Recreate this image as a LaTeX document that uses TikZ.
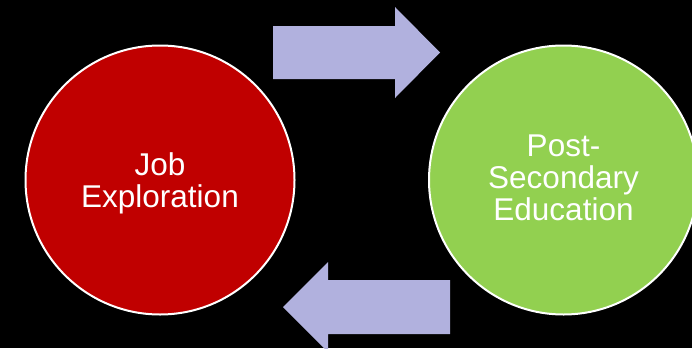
\documentclass[tikz,border=0pt]{standalone}
\usepackage{fontspec}
\setmainfont{Liberation Sans}
\usepackage{tikz}
\definecolor{jobred}{RGB}{192,0,0}
\definecolor{edugreen}{RGB}{146,208,80}
\definecolor{arrowblue}{RGB}{177,177,222}

\begin{document}
\begin{tikzpicture}[x=1pt, y=-1pt,
    circ/.style={circle, draw=white, line width=2pt, minimum size=269pt, inner sep=0pt},
    lbl/.style={text=white, align=center, inner sep=0pt, font=\fontsize{31.5}{32}\selectfont},
    blockarrow/.style={fill=arrowblue}]
  % Background
  \fill[black] (0,0) rectangle (692,348);
  \useasboundingbox (0,0) rectangle (692,348);
  \clip (0,0) rectangle (692,348);
  % Circles
  \node[circ, fill=jobred] (job) at (160,180) {};
  \node[circ, fill=edugreen] (edu) at (563.5,180) {};
  % Labels
  \node[lbl, yshift=-3.5pt] (joblbl) at (job) {Job\\Exploration};
  \node[lbl, yshift=2.5pt] (edulbl) at (edu) {Post-\\Secondary\\Education};
  % Arrows
  \fill[blockarrow] (273,26) -- (395,26) -- (395,7) -- (440,52.5)
    -- (395,98) -- (395,79) -- (273,79) -- cycle;
  \fill[blockarrow] (450,280) -- (328,280) -- (328,262) -- (283,307)
    -- (328,352) -- (328,334) -- (450,334) -- cycle;
\end{tikzpicture}
\end{document}
